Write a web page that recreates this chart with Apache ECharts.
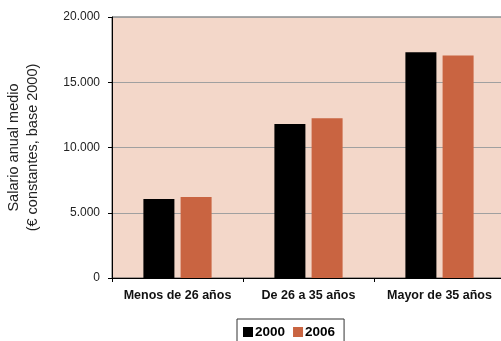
<!DOCTYPE html>
<html>
<head>
<meta charset="utf-8">
<script src="https://cdn.jsdelivr.net/npm/echarts@6/dist/echarts.min.js"></script>
<style>html,body{margin:0;padding:0;background:#fff;}#c{width:501px;height:341px;}</style>
</head>
<body>
<div id="c"></div>
<script>
var categories = ['Menos de 26 años', 'De 26 a 35 años', 'Mayor de 35 años'];
var values2000 = [6050, 11800, 17300];
var values2006 = [6200, 12250, 17050];
var seriesNames = ['2000', '2006'];
var yTicks = [0, 5000, 10000, 15000, 20000];

var chart = echarts.init(document.getElementById('c'), null, {renderer: 'canvas'});
chart.setOption({
  animation: false,
  backgroundColor: '#ffffff',
  grid: {
    left: 112, top: 17, width: 393, height: 261,
    containLabel: false, outerBoundsMode: 'none',
    show: true, backgroundColor: '#F3D7C9', borderColor: '#555555', borderWidth: 1
  },
  legend: {
    data: seriesNames,
    left: 237, top: 319,
    icon: 'rect', itemWidth: 10, itemHeight: 10, itemGap: 8,
    padding: [6, 9, 12, 6],
    borderColor: '#333', borderWidth: 1,
    textStyle: {fontFamily: 'Liberation Sans, Arial', fontSize: 13.5, fontWeight: 'bold', color: '#000', padding: [0,0,0,-3]}
  },
  xAxis: {
    type: 'category', data: categories,
    axisLine: {lineStyle: {color: '#000', width: 1}},
    axisTick: {show: true, alignWithLabel: false, length: 4, lineStyle: {color: '#000'}},
    axisLabel: {interval: 0, hideOverlap: false, fontFamily: 'Liberation Sans, Arial', fontSize: 12.5, fontWeight: 'bold', color: '#111', margin: 11}
  },
  yAxis: {
    type: 'value', min: yTicks[0], max: yTicks[yTicks.length - 1], interval: 5000,
    name: 'Salario anual medio\n(€ constantes, base 2000)',
    nameLocation: 'middle', nameRotate: 90, nameGap: 70,
    nameTextStyle: {fontFamily: 'Liberation Sans, Arial', fontSize: 14.5, color: '#222', lineHeight: 19},
    axisLine: {show: true, lineStyle: {color: '#000', width: 1}},
    axisTick: {show: true, length: 4, lineStyle: {color: '#000'}},
    splitLine: {show: true, lineStyle: {color: '#A0A0A0', width: 1}},
    axisLabel: {
      fontFamily: 'Liberation Sans, Arial', fontSize: 12, color: '#222', margin: 12,
      formatter: function (v) { return v === 0 ? '0' : String(v).replace(/\B(?=(\d{3})+(?!\d))/g, '.'); }
    }
  },
  series: [
    {name: seriesNames[0], type: 'bar', data: values2000, barWidth: 31, barGap: '20%', itemStyle: {color: '#000000'}},
    {name: seriesNames[1], type: 'bar', data: values2006, barWidth: 31, itemStyle: {color: '#C96441'}}
  ]
});
</script>
</body>
</html>
